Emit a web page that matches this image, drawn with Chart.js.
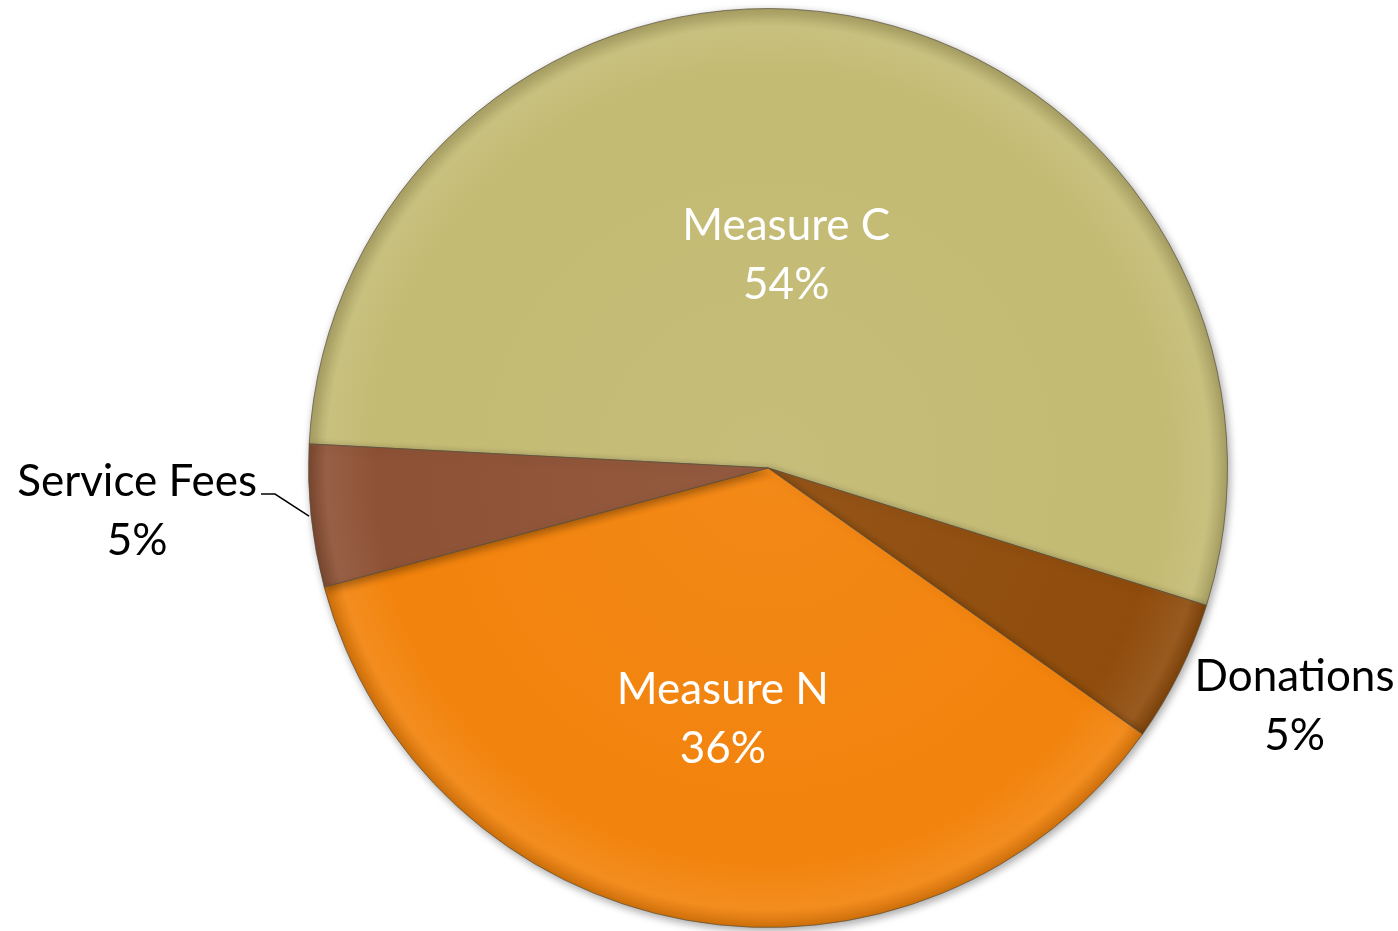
<!DOCTYPE html>
<html>
<head>
<meta charset="utf-8">
<script src="https://cdn.jsdelivr.net/npm/chart.js@4"></script>
<style>
  html, body { margin: 0; padding: 0; background: #ffffff; }
  #wrap { width: 1398px; height: 931px; }
</style>
</head>
<body>
<div id="wrap"><canvas id="fundingChart" width="1398" height="931"></canvas></div>
<script>
// Datos del gráfico
const sliceLabels = ['Measure C', 'Donations', 'Measure N', 'Service Fees'];
const sliceValues = [54, 5, 36, 5];
const sliceColors = ['#C3BA73', '#8F4C0C', '#F2830C', '#8E5236'];
const labelInside = [true, false, true, false];

// Ajuste fino de las etiquetas interiores (fracción del radio, desplazamiento x)
const insidePlacement = { 0: { f: 0.47, dx: -20 }, 2: { f: 0.555, dx: 0 } };

// Etiquetas tipo Excel: dentro (blanco) o fuera (negro)
const sliceLabelPlugin = {
    id: 'sliceLabels',
    afterDatasetsDraw(chart) {
        const ctx = chart.ctx;
        const meta = chart.getDatasetMeta(0);
        const total = sliceValues.reduce((a, b) => a + b, 0);
        ctx.save();
        ctx.font = '44px Lato, "Open Sans", sans-serif';
        ctx.textBaseline = 'middle';
        meta.data.forEach(function(arc, i) {
            const p = arc.getProps(['x', 'y', 'startAngle', 'endAngle', 'outerRadius'], true);
            const mid = (p.startAngle + p.endAngle) / 2;
            const pct = Math.round(sliceValues[i] / total * 100) + '%';
            const lineGap = 59;
            if (labelInside[i]) {
                const pl = insidePlacement[i] || { f: 0.5, dx: 0 };
                const r = p.outerRadius * pl.f;
                const cx = p.x + Math.cos(mid) * r + pl.dx;
                const cy = p.y + Math.sin(mid) * r;
                ctx.fillStyle = '#ffffff';
                ctx.textAlign = 'center';
                ctx.fillText(sliceLabels[i], cx, cy - lineGap / 2);
                ctx.fillText(pct, cx, cy + lineGap / 2);
            } else {
                const ex = p.x + Math.cos(mid) * p.outerRadius;
                const ey = p.y + Math.sin(mid) * p.outerRadius;
                ctx.fillStyle = '#000000';
                const w = ctx.measureText(sliceLabels[i]).width;
                ctx.textAlign = 'center';
                if (Math.cos(mid) >= 0) {
                    const cy = ey + 34;
                    const cx = ex + 15 + w / 2;
                    ctx.fillText(sliceLabels[i], cx, cy - lineGap / 2);
                    ctx.fillText(pct, cx, cy + lineGap / 2);
                } else {
                    const cy = ey - 5;
                    const right = ex - 54;
                    const cx = right - w / 2;
                    ctx.fillText(sliceLabels[i], cx, cy - lineGap / 2);
                    ctx.fillText(pct, cx, cy + lineGap / 2);
                    // línea guía
                    ctx.strokeStyle = '#000000';
                    ctx.lineWidth = 1.5;
                    ctx.beginPath();
                    ctx.moveTo(ex - 2, ey);
                    ctx.lineTo(ex - 36, ey - 22);
                    ctx.lineTo(right + 4, ey - 22);
                    ctx.stroke();
                }
            }
        });
        ctx.restore();
    }
};

// Sombra suave bajo el pastel
const shadowPlugin = {
    id: 'pieShadow',
    beforeDatasetsDraw(chart) {
        chart.ctx.save();
        chart.ctx.shadowColor = 'rgba(0,0,0,0.35)';
        chart.ctx.shadowBlur = 8;
        chart.ctx.shadowOffsetX = 2;
        chart.ctx.shadowOffsetY = 3;
    },
    afterDatasetsDraw(chart) {
        chart.ctx.restore();
    }
};

function shade(hex, f) {
    const n = parseInt(hex.slice(1), 16);
    let r = (n >> 16) & 255, g = (n >> 8) & 255, b = n & 255;
    const adj = v => Math.max(0, Math.min(255, Math.round(f > 0 ? v + (255 - v) * f : v * (1 + f))));
    return 'rgb(' + adj(r) + ',' + adj(g) + ',' + adj(b) + ')';
}

document.addEventListener('DOMContentLoaded', function() {
    const ctx = document.getElementById('fundingChart').getContext('2d');
    new Chart(ctx, {
        type: 'pie',
        data: {
            labels: sliceLabels,
            datasets: [{
                data: sliceValues,
                backgroundColor: function(c) {
                    const base = sliceColors[c.dataIndex];
                    const area = c.chart.chartArea;
                    if (!area) return base;
                    const cx = (area.left + area.right) / 2;
                    const cy = (area.top + area.bottom) / 2;
                    const r = Math.min(area.right - area.left, area.bottom - area.top) / 2;
                    const g = c.chart.ctx.createRadialGradient(cx, cy, 0, cx, cy, r);
                    g.addColorStop(0, shade(base, 0.05));
                    g.addColorStop(0.85, base);
                    g.addColorStop(0.96, shade(base, 0.08));
                    g.addColorStop(1, shade(base, -0.15));
                    return g;
                },
                borderColor: 'rgba(90,80,60,0.7)',
                borderWidth: 1
            }]
        },
        options: {
            responsive: false,
            animation: false,
            rotation: -87,
            layout: { padding: { left: 138, right: 0, top: 8, bottom: 3 } },
            plugins: {
                legend: { display: false },
                tooltip: { enabled: false }
            }
        },
        plugins: [shadowPlugin, sliceLabelPlugin]
    });
});
</script>
</body>
</html>
